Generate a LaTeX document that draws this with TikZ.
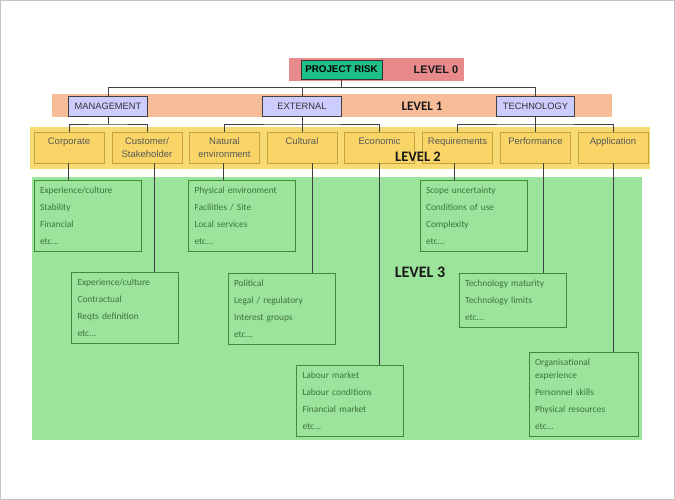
\documentclass[tikz,border=0pt]{standalone}
\usepackage{fontspec}
\setmainfont{Liberation Sans}
\newfontfamily\calfont{Carlito}
\usetikzlibrary{calc}
\definecolor{lzero}{HTML}{E8898C}
\definecolor{prfill}{HTML}{1FBF8A}
\definecolor{lone}{HTML}{F6BD98}
\definecolor{lonebox}{HTML}{CCCCFF}
\definecolor{ltwo}{HTML}{F9DB74}
\definecolor{ltwobox}{HTML}{F8D566}
\definecolor{ltwoedge}{HTML}{C4A33E}
\definecolor{lthree}{HTML}{9CE49B}
\definecolor{lthreeedge}{HTML}{3C8C3C}
\definecolor{lthreetext}{HTML}{3D733D}
\definecolor{wirecol}{HTML}{404040}
\definecolor{framecol}{HTML}{C4C4C4}
\begin{document}
\begin{tikzpicture}[x=1pt,y=-1pt,
 prnode/.style={draw=black!80, fill=prfill, line width=0.8pt, minimum width=81pt, minimum height=19pt, inner sep=0pt, font=\bfseries\fontsize{9.8}{11}\selectfont, text=black},
 lonenode/.style={draw=wirecol, fill=lonebox, line width=0.7pt, minimum width=78.5pt, minimum height=20pt, inner sep=0pt, font=\fontsize{9.3}{11}\selectfont, text=black!80},
 ltwonode/.style={draw=ltwoedge, fill=ltwobox, line width=0.7pt, minimum width=70pt, minimum height=31pt, inner sep=0pt, align=center, font=\fontsize{9.5}{13}\selectfont, text=black!65},
 lthreenode/.style={draw=lthreeedge, line width=0.8pt, inner xsep=6pt, inner ysep=0pt, text width=95pt, minimum height=71pt, align=left, font=\calfont\fontsize{9.4}{17}\selectfont, text=lthreetext},
 lvltext/.style={text=black!90, inner sep=0pt},
 wire/.style={draw=wirecol, line width=0.8pt}
]
\useasboundingbox (0,0) rectangle (675,500);
\draw[framecol, line width=1pt] (0.5,0.5) rectangle (674.5,499.5);
% bands
\fill[lzero] (289,58) rectangle (464,81);
\fill[lone] (52,94) rectangle (612,117);
\fill[ltwo] (30,127) rectangle (650,169);
\fill[lthree] (32,177) rectangle (642,440);
% level 0
\node[prnode] (pr) at (341.5,69.5) {PROJECT RISK};
\node[lvltext, font=\bfseries\fontsize{11}{13}\selectfont] (l0) at (436,69.5) {LEVEL 0};
% level 1
\node[lonenode] (mgmt) at (108,106) {MANAGEMENT};
\node[lonenode] (ext) at (302,106) {EXTERNAL};
\node[lonenode] (tech) at (535.5,106) {TECHNOLOGY};
\node[lvltext, font=\calfont\bfseries\fontsize{13}{15}\selectfont] (l1) at (422,106) {LEVEL 1};
% level 2
\node[ltwonode] (corp) at (69,147.5) {Corporate\\\mbox{}};
\node[ltwonode] (cust) at (147,147.5) {Customer/\\Stakeholder};
\node[ltwonode] (nat) at (224.5,147.5) {Natural\\environment};
\node[ltwonode] (cult) at (302,147.5) {Cultural\\\mbox{}};
\node[ltwonode] (econ) at (379.5,147.5) {Economic\\\mbox{}};
\node[ltwonode] (req) at (457.5,147.5) {Requirements\\\mbox{}};
\node[ltwonode] (perf) at (535.5,147.5) {Performance\\\mbox{}};
\node[ltwonode] (app) at (613,147.5) {Application\\\mbox{}};
\node[lvltext, font=\calfont\bfseries\fontsize{14.5}{16}\selectfont] (l2) at (418,157) {LEVEL 2};
% level 3
\node[lthreenode] (corp3) at (87.5,216) {Experience/culture\\Stability\\Financial\\etc...};
\node[lthreenode] (nat3) at (242,216) {Physical environment\\Facilities / Site\\Local services\\etc...};
\node[lthreenode] (req3) at (473.5,215.5) {Scope uncertainty\\Conditions of use\\Complexity\\etc...};
\node[lthreenode] (cust3) at (125,307.5) {Experience/culture\\Contractual\\Reqts definition\\etc...};
\node[lthreenode] (cult3) at (281.5,308.5) {Political\\Legal / regulatory\\Interest groups\\etc...};
\node[lthreenode, minimum height=54pt] (perf3) at (512.5,300) {Technology maturity\\Technology limits\\etc...};
\node[lthreenode] (econ3) at (350,400.5) {Labour market\\Labour conditions\\Financial market\\etc...};
\node[lthreenode, minimum height=84pt, text width=97pt] (app3) at (583.5,394) {Organisational\\[-4pt]experience\\Personnel skills\\Physical resources\\etc...};
\node[lvltext, font=\calfont\bfseries\fontsize{16}{18}\selectfont] (l3) at (420,272) {LEVEL 3};
% level 0 -> 1
\coordinate (b0) at ($(pr.south)!0.5!(pr.south |- ext.north)$);
\draw[wire] (pr.south) -- (b0);
\draw[wire] (mgmt.north) |- (b0) -| (tech.north);
\draw[wire] (ext.north) -- (ext.north |- b0);
% level 1 -> 2
\coordinate (b1) at ($(mgmt.south)!0.5!(mgmt.south |- corp.north)$);
\coordinate (b2) at (ext.south |- b1);
\coordinate (b3) at (tech.south |- b1);
\draw[wire] (mgmt.south) -- (b1);
\draw[wire] (corp.north) |- (b1) -| (cust.north);
\draw[wire] (ext.south) -- (cult.north);
\draw[wire] (nat.north) |- (b2) -| (econ.north);
\draw[wire] (tech.south) -- (perf.north);
\draw[wire] (req.north) |- (b3) -| (app.north);
% level 2 -> 3
\coordinate (s1) at ([xshift=-1pt]corp.south);
\coordinate (s2) at ([xshift=7pt]cust.south);
\coordinate (s3) at ([xshift=-1.5pt]nat.south);
\coordinate (s4) at ([xshift=10pt]cult.south);
\coordinate (s5) at (econ.south);
\coordinate (s6) at ([xshift=-3.5pt]req.south);
\coordinate (s7) at ([xshift=7.5pt]perf.south);
\coordinate (s8) at (app.south);
\draw[wire] (s1) -- (s1 |- corp3.north);
\draw[wire] (s2) -- (s2 |- cust3.north);
\draw[wire] (s3) -- (s3 |- nat3.north);
\draw[wire] (s4) -- (s4 |- cult3.north);
\draw[wire] (s5) -- (s5 |- econ3.north);
\draw[wire] (s6) -- (s6 |- req3.north);
\draw[wire] (s7) -- (s7 |- perf3.north);
\draw[wire] (s8) -- (s8 |- app3.north);
\end{tikzpicture}
\end{document}
